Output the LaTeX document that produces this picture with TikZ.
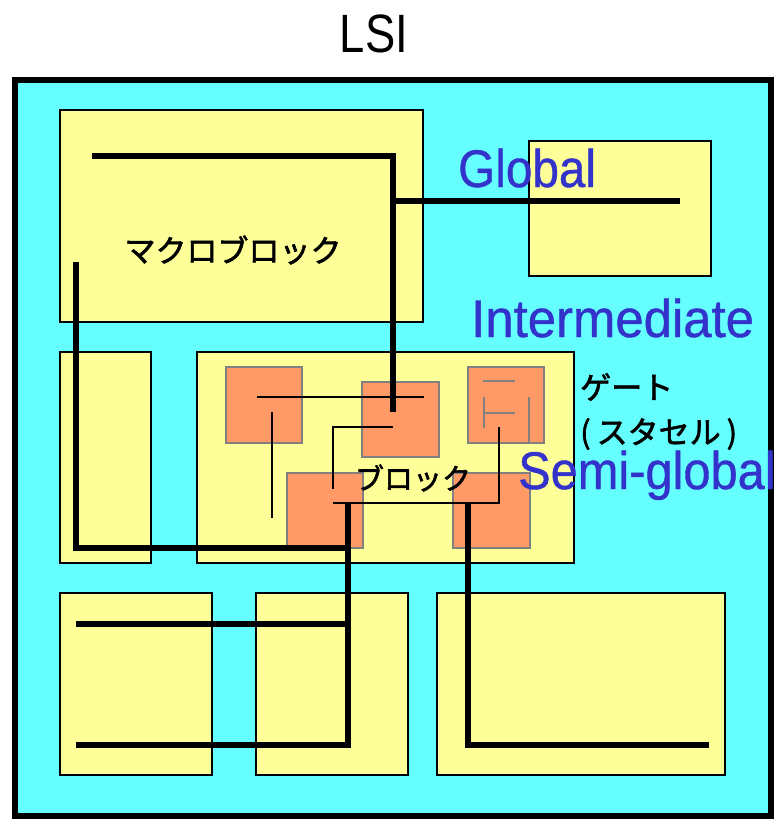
\documentclass[tikz,border=0pt]{standalone}
\usepackage{fontspec}
\setmainfont{Liberation Sans}
\newfontfamily\jp{Noto Sans CJK JP}[FakeBold=2]
\newfontfamily\lat{Liberation Sans}[FakeBold=0.8]
\definecolor{chip}{HTML}{66FFFF}
\definecolor{blk}{HTML}{FFFF99}
\definecolor{gatec}{HTML}{FF9966}
\definecolor{gateb}{HTML}{808080}
\definecolor{lbl}{HTML}{3333CC}
\tikzset{
  blockbox/.style={fill=blk, draw=black, line width=1.6pt},
  gatebox/.style={fill=gatec, draw=gateb, line width=2pt},
  thickwire/.style={line width=5.5pt, line join=miter},
  thinwire/.style={line width=1.5pt},
  graywire/.style={line width=2pt, draw=gateb},
  biglabel/.style={inner sep=0pt, text=lbl, font=\lat\fontsize{53}{60}\selectfont},
  jplabel/.style={inner sep=0pt, font=\jp\fontsize{31}{34}\selectfont}
}
\begin{document}
\begin{tikzpicture}[x=1pt, y=-1pt]
\useasboundingbox (0,0) rectangle (774,819);
\clip (0,0) rectangle (774,819);
% chip
\draw[fill=chip, line width=6pt] (15,80) rectangle (771,816);
% blocks
\draw[blockbox] (60,110) rectangle (423,322);
\draw[blockbox] (529,141) rectangle (711,276);
\draw[blockbox] (60,352) rectangle (151,563);
\draw[blockbox] (197,352) rectangle (574,563);
\draw[blockbox] (60,593) rectangle (212,775);
\draw[blockbox] (256,593) rectangle (408,775);
\draw[blockbox] (437,593) rectangle (725,775);
% gates
\draw[gatebox] (226,367) rectangle (302,443);
\draw[gatebox] (362,382) rectangle (439,457);
\draw[gatebox] (468,367) rectangle (544,443);
\draw[gatebox] (287,473) rectangle (363,548);
\draw[gatebox] (453,473) rectangle (530,548);
% gray wiring inside gate C
\draw[graywire] (483,381) -- (515,381);
\draw[graywire] (483,413) -- (515,413);
\draw[graywire] (484,397) -- (484,428);
\draw[graywire] (529,397) -- (529,443);
% thin wires
\coordinate (t1a) at (257,397); \coordinate (t1b) at (424,397);
\draw[thinwire] (t1a) -- (t1b);
\coordinate (t2a) at (272,412); \coordinate (t2b) at (272,518);
\draw[thinwire] (t2a) -- (t2b);
\coordinate (t3a) at (393,427); \coordinate (t3b) at (333,489);
\draw[thinwire] (t3a) -- (333,427) -- (t3b);
\coordinate (t4a) at (499,427); \coordinate (t4b) at (333,503);
\draw[thinwire] (t4a) -- (499,503) -- (t4b);
% thick wires
\coordinate (g1) at (92,156); \coordinate (g2) at (393,412);
\draw[thickwire] (g1) -- (393,156) -- (g2);
\coordinate (g3) at (393,201); \coordinate (g4) at (680,201);
\draw[thickwire] (g3) -- (g4);
\coordinate (s1) at (76,262); \coordinate (s2) at (348,548);
\draw[thickwire] (s1) -- (76,548) -- (s2);
\coordinate (s3) at (348,504); \coordinate (s4) at (76,745);
\draw[thickwire] (s3) -- (348,745) -- (s4);
\coordinate (s5) at (76,624); \coordinate (s6) at (348,624);
\draw[thickwire] (s5) -- (s6);
\coordinate (r1) at (468,504); \coordinate (r2) at (709,745);
\draw[thickwire] (r1) -- (468,745) -- (r2);
% labels
\node[inner sep=0pt, anchor=base, xscale=0.84, font=\fontsize{54}{60}\selectfont] (lsi) at (374,52) {LSI};
\node[biglabel, anchor=base west, xscale=0.9] (glob) at (458,187) {Global};
\node[biglabel, anchor=base west, xscale=0.96] (inter) at (471,337) {Intermediate};
\node[biglabel, anchor=base west, xscale=0.92] (semi) at (518,489) {Semi-global};
\node[jplabel] (macro) at (233,250) {マクロブロック};
\node[jplabel, font=\jp\fontsize{29}{32}\selectfont] (blk) at (413,478) {ブロック};
\node[jplabel, anchor=west] (gate) at (580,387) {ゲート};
\node[jplabel, anchor=west] (cell) at (580,434) {(\kern6ptスタセル\kern6pt)};
\end{tikzpicture}
\end{document}
